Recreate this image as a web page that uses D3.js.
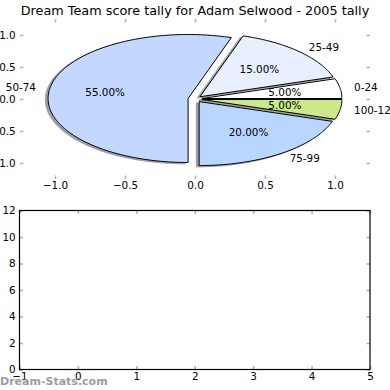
<!DOCTYPE html>
<html>
<head>
<meta charset="utf-8">
<script src="https://cdn.jsdelivr.net/npm/d3@7/dist/d3.min.js"></script>
<style>
  body { margin: 0; background: #fff; }
  svg text { font-family: "DejaVu Sans", sans-serif; }
</style>
</head>
<body>
<div id="playground"></div>
<script>
/*
  data
*/
var scoreBands = ['0-24', '25-49', '50-74', '75-99', '100-124'];
var bandShares = [5, 15, 55, 20, 5];
var bandColours = ['#ffffff', '#e8f0ff', '#c4d8ff', '#b8d6ff', '#cce98a'];
var pieTicks = [-1, -0.5, 0, 0.5, 1];
var lowerXTicks = [-1, 0, 1, 2, 3, 4, 5];
var lowerYTicks = [0, 2, 4, 6, 8, 10, 12];

var EXPLODE = 0.05;

var svg = d3.select('#playground')
  .append('svg')
    .attr('width', 390)
    .attr('height', 390);

svg.append('text')
  .attr('x', 195).attr('y', 14.5)
  .attr('text-anchor', 'middle')
  .style('font-size', '12.8px')
  .text('Dream Team score tally for Adam Selwood - 2005 tally');

/*
  top axes: the pie
*/
var px = d3.scaleLinear().domain([-1.25, 1.25]).range([20, 370]),
    py = d3.scaleLinear().domain([-1.25, 1.25]).range([179, 19]);

// counter clockwise from 3 o'clock, like matplotlib
var pie = d3.pie().sort(null).startAngle(Math.PI / 2).endAngle(Math.PI / 2 - 2 * Math.PI);
var slices = pie(bandShares).map(function(d, i) {
  var t0 = Math.PI / 2 - d.startAngle,
      t1 = Math.PI / 2 - d.endAngle,
      mid = (t0 + t1) / 2;
  return {
    label: scoreBands[i],
    value: d.value,
    colour: bandColours[i],
    t0: t0, t1: t1, mid: mid,
    cx: EXPLODE * Math.cos(mid),
    cy: EXPLODE * Math.sin(mid)
  };
});
var total = d3.sum(bandShares);

function wedgePath(s, ox, oy) {
  var n = Math.max(6, Math.ceil((s.t1 - s.t0) / (Math.PI / 180))),
      pts = [[s.cx, s.cy]];
  for (var k = 0; k <= n; k++) {
    var a = s.t0 + (s.t1 - s.t0) * k / n;
    pts.push([s.cx + Math.cos(a), s.cy + Math.sin(a)]);
  }
  return d3.line()
    .x(function(p) { return px(p[0] + ox); })
    .y(function(p) { return py(p[1] + oy); })(pts) + 'Z';
}

var pieG = svg.append('g');

// shadows go under everything
pieG.selectAll('path.shadow')
  .data(slices)
  .enter()
    .append('path')
      .attr('class', 'shadow')
      .attr('d', function(s) { return wedgePath(s, -0.02, -0.02); })
      .attr('fill', function(s) { var c = d3.rgb(s.colour); return d3.rgb(c.r * 0.3, c.g * 0.3, c.b * 0.3); })
      .attr('stroke', function(s) { var c = d3.rgb(s.colour); return d3.rgb(c.r * 0.3, c.g * 0.3, c.b * 0.3); })
      .attr('stroke-width', 1)
      .attr('opacity', 0.5);

pieG.selectAll('path.wedge')
  .data(slices)
  .enter()
    .append('path')
      .attr('class', 'wedge')
      .attr('d', function(s) { return wedgePath(s, 0, 0); })
      .attr('fill', function(s) { return s.colour; })
      .attr('stroke', '#000')
      .attr('stroke-width', 1)
      .attr('stroke-linejoin', 'round');

// band names at 1.1 radius
pieG.selectAll('text.band')
  .data(slices)
  .enter()
    .append('text')
      .attr('class', 'band')
      .attr('x', function(s) { return px(s.cx + 1.1 * Math.cos(s.mid)); })
      .attr('y', function(s) { return py(s.cy + 1.1 * Math.sin(s.mid)); })
      .attr('dy', '0.35em')
      .attr('text-anchor', function(s) { return (s.cx + 1.1 * Math.cos(s.mid)) > 0 ? 'start' : 'end'; })
      .style('font-size', '10.4px')
      .text(function(s) { return s.label; });

// percentages at 0.6 radius
pieG.selectAll('text.pct')
  .data(slices)
  .enter()
    .append('text')
      .attr('class', 'pct')
      .attr('x', function(s) { return px(s.cx + 0.6 * Math.cos(s.mid)); })
      .attr('y', function(s) { return py(s.cy + 0.6 * Math.sin(s.mid)); })
      .attr('dy', '0.35em')
      .attr('text-anchor', 'middle')
      .style('font-size', '10.4px')
      .text(function(s) { return d3.format('.2f')(100 * s.value / total) + '%'; });

/*
  axes helper: ticks inside, grey, labels on left/bottom only
*/
function drawAxes(g, x, y, xt, yt, fmtX, fmtY, padX, padY) {
  var x0 = x.range()[0], x1 = x.range()[1],
      y0 = y.range()[0], y1 = y.range()[1];
  var sides = [
    { ax: d3.axisBottom(x).tickValues(xt).tickFormat(fmtX).tickPadding(padX), at: 'translate(0,' + y0 + ')' },
    { ax: d3.axisTop(x).tickValues(xt).tickFormat(''), at: 'translate(0,' + y1 + ')' },
    { ax: d3.axisLeft(y).tickValues(yt).tickFormat(fmtY).tickPadding(padY), at: 'translate(' + x0 + ',0)' },
    { ax: d3.axisRight(y).tickValues(yt).tickFormat(''), at: 'translate(' + x1 + ',0)' }
  ];
  sides.forEach(function(sd) {
    var a = g.append('g')
      .attr('transform', sd.at)
      .call(sd.ax.tickSizeInner(-3.5).tickSizeOuter(0));
    a.select('.domain').remove();
    a.selectAll('line').attr('stroke', '#b4b4b4').attr('stroke-width', 1.6);
    a.selectAll('text')
      .attr('fill', '#000')
      .style('font-family', '"DejaVu Sans", sans-serif')
      .style('font-size', '10.4px');
  });
}

drawAxes(svg.append('g'), px, py, pieTicks, pieTicks,
  d3.format('.1f'), d3.format('.1f'), 3.1, 4.3);

/*
  bottom axes: empty
*/
var lx = d3.scaleLinear().domain([-1, 5]).range([19.5, 370]),
    ly = d3.scaleLinear().domain([0, 12]).range([369.5, 210.5]);

var lower = svg.append('g');
drawAxes(lower, lx, ly, lowerXTicks, lowerYTicks, d3.format('d'), d3.format('d'), 3.2, 3.8);

lower.append('rect')
  .attr('x', lx(-1)).attr('y', ly(12))
  .attr('width', lx(5) - lx(-1))
  .attr('height', ly(0) - ly(12))
  .attr('fill', 'none')
  .attr('stroke', '#000')
  .attr('stroke-width', 1.2);

// watermark
svg.append('text')
  .attr('x', 0).attr('y', 384.5)
  .style('font-size', '11px')
  .style('font-weight', 'bold')
  .attr('fill', '#8c8c8c')
  .attr('opacity', 0.85)
  .text('Dream-Stats.com');

console.log('drawn', slices.length, 'slices');
</script>
</body>
</html>
